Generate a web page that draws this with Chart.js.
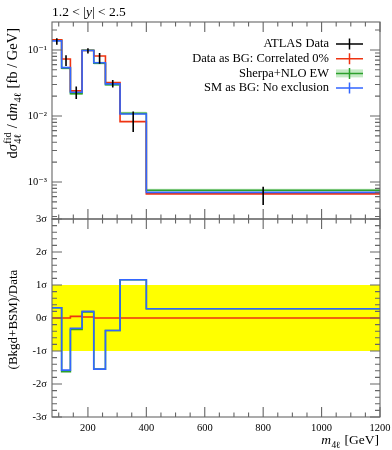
<!DOCTYPE html>
<html><head><meta charset="utf-8">
<script src="https://cdn.jsdelivr.net/npm/chart.js@4.4.1/dist/chart.umd.min.js"></script>
<style>
html,body{margin:0;padding:0;background:#fff;}
#wrap{position:relative;width:392px;height:450px;}
canvas{position:absolute;left:0;top:0;}
</style></head><body>
<div id="wrap"><canvas id="cTop" width="392" height="450"></canvas><canvas id="cBot" width="392" height="450"></canvas></div>
<script>
// ---- data ----
const binEdges   = [77, 110, 140, 180, 220, 260, 310, 400, 1200];
const atlasData  = [0.135, 0.070, 0.023, 0.097, 0.076, 0.031, 0.0087, 0.00065];
const atlasErr   = [0.015, 0.013, 0.005, 0.009, 0.014, 0.004, 0.003, 0.0002];
const redVals    = [0.142, 0.073, 0.024, 0.098, 0.081, 0.032, 0.0082, 0.00066];
const greenVals  = [0.141, 0.053, 0.0218, 0.099, 0.063, 0.0298, 0.0110, 0.00075];
const greenUnc   = [0.006, 0.0025, 0.001, 0.004, 0.003, 0.0014, 0.0006, 0.00004];
const blueVals   = [0.137, 0.054, 0.0229, 0.098, 0.064, 0.0306, 0.0107, 0.000697];
const redRatio   = [0, 0, 0.05, 0.03, 0, 0, 0, 0];
const greenRatio = [0.31, -1.63, -0.35, 0.18, -1.55, -0.38, 1.16, 0.28];
const blueRatio  = [0.31, -1.58, -0.31, 0.20, -1.55, -0.38, 1.16, 0.28];
const xTickLabels = [200, 400, 600, 800, 1000, 1200];
const yTickLabelsTop = [1e-3, 1e-2, 1e-1];
const yTickLabelsBot = [-3, -2, -1, 0, 1, 2, 3];
const legendLabels = ['ATLAS Data', 'Data as BG: Correlated 0%', 'Sherpa+NLO EW', 'SM as BG: No exclusion'];

const RED = '#EE3311', BLUE = '#3366FF', GREEN = '#2ca02c', BAND = 'rgba(90,195,90,0.35)', YEL = '#FFFF00';
const SERIF = '"Liberation Serif","DejaVu Serif",serif';
const ELL = '"DejaVu Serif",serif';

function stepPts(vals){ const p = vals.map((v,i)=>({x:binEdges[i], y:v})); p.push({x:binEdges[binEdges.length-1], y:vals[vals.length-1]}); return p; }
function errPts(vals, errs){ const p=[]; vals.forEach((v,i)=>{ const c=(binEdges[i]+binEdges[i+1])/2; p.push({x:c,y:v-errs[i]},{x:c,y:v+errs[i]},{x:c,y:null}); }); return p; }
function line(data, color, w, extra){ return Object.assign({type:'line', data, borderColor:color, borderWidth:w, pointRadius:0, fill:false, stepped:'before', spanGaps:false}, extra||{}); }

const SUP = {'-':'⁻','0':'⁰','1':'¹','2':'²','3':'³','4':'⁴'};
function powLabel(v){ const e = Math.round(Math.log10(v)); return '10' + String(e).split('').map(c=>SUP[c]).join(''); }

// rich text parts: {t, it, f} normal run, {sup, sub} stacked script, script text may be array of [text,font]
function scriptW(ctx, s, size){ if(!s) return 0; let w=0; s.forEach(([t,f])=>{ ctx.font=(size*0.7)+'px '+(f||SERIF); w+=ctx.measureText(t).width; }); return w; }
function scriptDraw(ctx, s, x, y, size){ if(!s) return; s.forEach(([t,f])=>{ ctx.font=(size*0.7)+'px '+(f||SERIF); ctx.fillText(t,x,y); x+=ctx.measureText(t).width; }); }
function richWidth(ctx, parts, size){
  let w=0;
  parts.forEach(p=>{
    if (p.t!==undefined){ ctx.font=(p.it?'italic ':'')+size+'px '+(p.f||SERIF); p._w=ctx.measureText(p.t).width; }
    else { p._w=Math.max(scriptW(ctx,p.sup,size), scriptW(ctx,p.sub,size))+1; }
    w+=p._w;
  });
  return w;
}
function drawRich(ctx, parts, x, y, size){
  ctx.textAlign='left'; ctx.textBaseline='alphabetic';
  parts.forEach(p=>{
    if (p.t!==undefined){ ctx.font=(p.it?'italic ':'')+size+'px '+(p.f||SERIF); ctx.fillText(p.t, x, y); }
    else { scriptDraw(ctx,p.sup,x+0.5,y-size*0.42,size); scriptDraw(ctx,p.sub,x+0.5,y+size*0.28,size); }
    x+=p._w;
  });
}
const SUB4L = [['4'],['ℓ',ELL]];

const frameTicks = {
  id:'frameTicks',
  afterDatasetsDraw(chart, args, o){
    const {ctx, chartArea:a, scales} = chart;
    ctx.save(); ctx.strokeStyle='#666'; ctx.lineWidth=1.1;
    ctx.strokeRect(a.left, a.top, a.right-a.left, a.bottom-a.top);
    ctx.beginPath();
    const xt=(v,len)=>{ const px=scales.x.getPixelForValue(v); ctx.moveTo(px,a.top); ctx.lineTo(px,a.top+len); ctx.moveTo(px,a.bottom); ctx.lineTo(px,a.bottom-len); };
    const yt=(v,len)=>{ const py=scales.y.getPixelForValue(v); ctx.moveTo(a.left,py); ctx.lineTo(a.left+len,py); ctx.moveTo(a.right,py); ctx.lineTo(a.right-len,py); };
    o.xMajor.forEach(v=>xt(v,10)); o.xMinor.forEach(v=>xt(v,4.5));
    o.yMajor.forEach(v=>yt(v,10)); o.yMinor.forEach(v=>yt(v,5));
    ctx.stroke(); ctx.restore();
  }
};

const xMinor=[]; for(let v=100; v<1200; v+=50){ if(v%200) xMinor.push(v); }
const yMinorTop=[]; for(let e=-4;e<=-1;e++){ for(let k=2;k<=9;k++){ const v=k*Math.pow(10,e); if(v>2.75e-4 && v<0.265) yMinorTop.push(v);} }
const yMinorBot=[]; for(let v=-3; v<3; v+=1){ for(let k=1;k<5;k++) yMinorBot.push(v+k*0.2); }

const topText = {
  id:'topText',
  afterDraw(chart){
    const ctx=chart.ctx; ctx.save(); ctx.fillStyle='#000';
    // title
    const tp=[{t:'1.2 < |'},{t:'y',it:true},{t:'| < 2.5'}]; richWidth(ctx,tp,13.5); drawRich(ctx,tp,52,16,13.5);
    // y label
    const yl=[{t:'d'},{t:'σ',it:true},{sup:[['fid']],sub:SUB4L},{t:' / d'},{t:'m',it:true},{sub:SUB4L},{t:' [fb / GeV]'}];
    const w=richWidth(ctx,yl,14.5);
    ctx.translate(17, 28+w); ctx.rotate(-Math.PI/2); drawRich(ctx,yl,0,0,14.5);
    ctx.setTransform(1,0,0,1,0,0);
    // legend
    const cols=['#000',RED,GREEN,BLUE];
    ctx.font='12.5px '+SERIF; ctx.textAlign='right'; ctx.textBaseline='middle';
    legendLabels.forEach((lab,i)=>{
      const y=44+i*14.7;
      ctx.fillStyle='#000'; ctx.fillText(lab,329,y);
      if(i===2){ ctx.fillStyle=BAND; ctx.fillRect(336,y-4,27,8); }
      ctx.strokeStyle=cols[i]; ctx.lineWidth=1.5; ctx.beginPath();
      ctx.moveTo(336,y); ctx.lineTo(363,y); ctx.moveTo(349.5,y-5.5); ctx.lineTo(349.5,y+5.5); ctx.stroke();
    });
    ctx.restore();
  }
};
const botText = {
  id:'botText',
  afterDraw(chart){
    const ctx=chart.ctx; ctx.save(); ctx.fillStyle='#000';
    const yl=[{t:'(Bkgd+BSM)/Data'}]; const w=richWidth(ctx,yl,13);
    ctx.translate(17, 319.5+w/2); ctx.rotate(-Math.PI/2); drawRich(ctx,yl,0,0,13);
    ctx.setTransform(1,0,0,1,0,0);
    const xl=[{t:'m',it:true},{sub:SUB4L},{t:' [GeV]'}]; const wx=richWidth(ctx,xl,13.5); drawRich(ctx,xl,379-wx,444,13.5);
    ctx.restore();
  }
};

const tickFont={family:SERIF, size:10.5};
const common={responsive:false, animation:false, devicePixelRatio:1, events:[],
  plugins:{legend:{display:false}, tooltip:{enabled:false}}};

new Chart(document.getElementById('cTop'), {
  type:'line',
  data:{datasets:[
    line(errPts(atlasData,atlasErr), '#000', 1.6, {stepped:false}),
    line(stepPts(blueVals), BLUE, 1.6),
    line(stepPts(redVals), RED, 1.6),
    line(stepPts(greenVals), GREEN, 1.6),
    line(stepPts(greenVals.map((v,i)=>v+greenUnc[i])), 'rgba(0,0,0,0)', 0, {fill:'+1', backgroundColor:BAND}),
    line(stepPts(greenVals.map((v,i)=>v-greenUnc[i])), 'rgba(0,0,0,0)', 0)
  ]},
  options:Object.assign({}, common, {
    layout:{padding:{top:22, bottom:231, left:0, right:12}},
    plugins:Object.assign({}, common.plugins, {frameTicks:{xMajor:xTickLabels, xMinor, yMajor:yTickLabelsTop, yMinor:yMinorTop}}),
    scales:{
      x:{type:'linear', min:77, max:1200, ticks:{display:false}, grid:{display:false, drawTicks:false}, border:{display:false},
         afterFit:s=>{s.height=0; s.paddingLeft=0; s.paddingRight=0;}},
      y:{type:'logarithmic', min:2.75e-4, max:0.265,
         afterBuildTicks:s=>{s.ticks=yTickLabelsTop.map(v=>({value:v}));},
         ticks:{font:tickFont, color:'#000', padding:5, autoSkip:false, callback:v=>powLabel(v)},
         grid:{display:false, drawTicks:false}, border:{display:false},
         afterFit:s=>{s.width=52; s.paddingTop=0; s.paddingBottom=0;}}
    }
  }),
  plugins:[frameTicks, topText]
});

new Chart(document.getElementById('cBot'), {
  type:'line',
  data:{datasets:[
    line(stepPts(blueRatio), BLUE, 1.6),
    line(stepPts(redRatio), RED, 1.6),
    line(stepPts(greenRatio), GREEN, 1.6),
    line([{x:binEdges[0],y:1},{x:binEdges[binEdges.length-1],y:1}], 'rgba(0,0,0,0)', 0, {fill:'+1', backgroundColor:YEL}),
    line([{x:binEdges[0],y:-1},{x:binEdges[binEdges.length-1],y:-1}], 'rgba(0,0,0,0)', 0)
  ]},
  options:Object.assign({}, common, {
    layout:{padding:{top:219, bottom:0, left:0, right:12}},
    plugins:Object.assign({}, common.plugins, {frameTicks:{xMajor:xTickLabels, xMinor, yMajor:yTickLabelsBot, yMinor:yMinorBot}}),
    scales:{
      x:{type:'linear', min:77, max:1200,
         afterBuildTicks:s=>{s.ticks=xTickLabels.map(v=>({value:v}));},
         ticks:{font:tickFont, color:'#000', padding:5, autoSkip:false, maxRotation:0, callback:v=>String(v)},
         grid:{display:false, drawTicks:false}, border:{display:false},
         afterFit:s=>{s.height=33; s.paddingLeft=0; s.paddingRight=0;}},
      y:{type:'linear', min:-3, max:3,
         afterBuildTicks:s=>{s.ticks=yTickLabelsBot.map(v=>({value:v}));},
         ticks:{font:tickFont, color:'#000', padding:5, autoSkip:false, callback:v=>v+'σ'},
         grid:{display:false, drawTicks:false}, border:{display:false},
         afterFit:s=>{s.width=52; s.paddingTop=0; s.paddingBottom=0;}}
    }
  }),
  plugins:[frameTicks, botText]
});
</script>
</body></html>
